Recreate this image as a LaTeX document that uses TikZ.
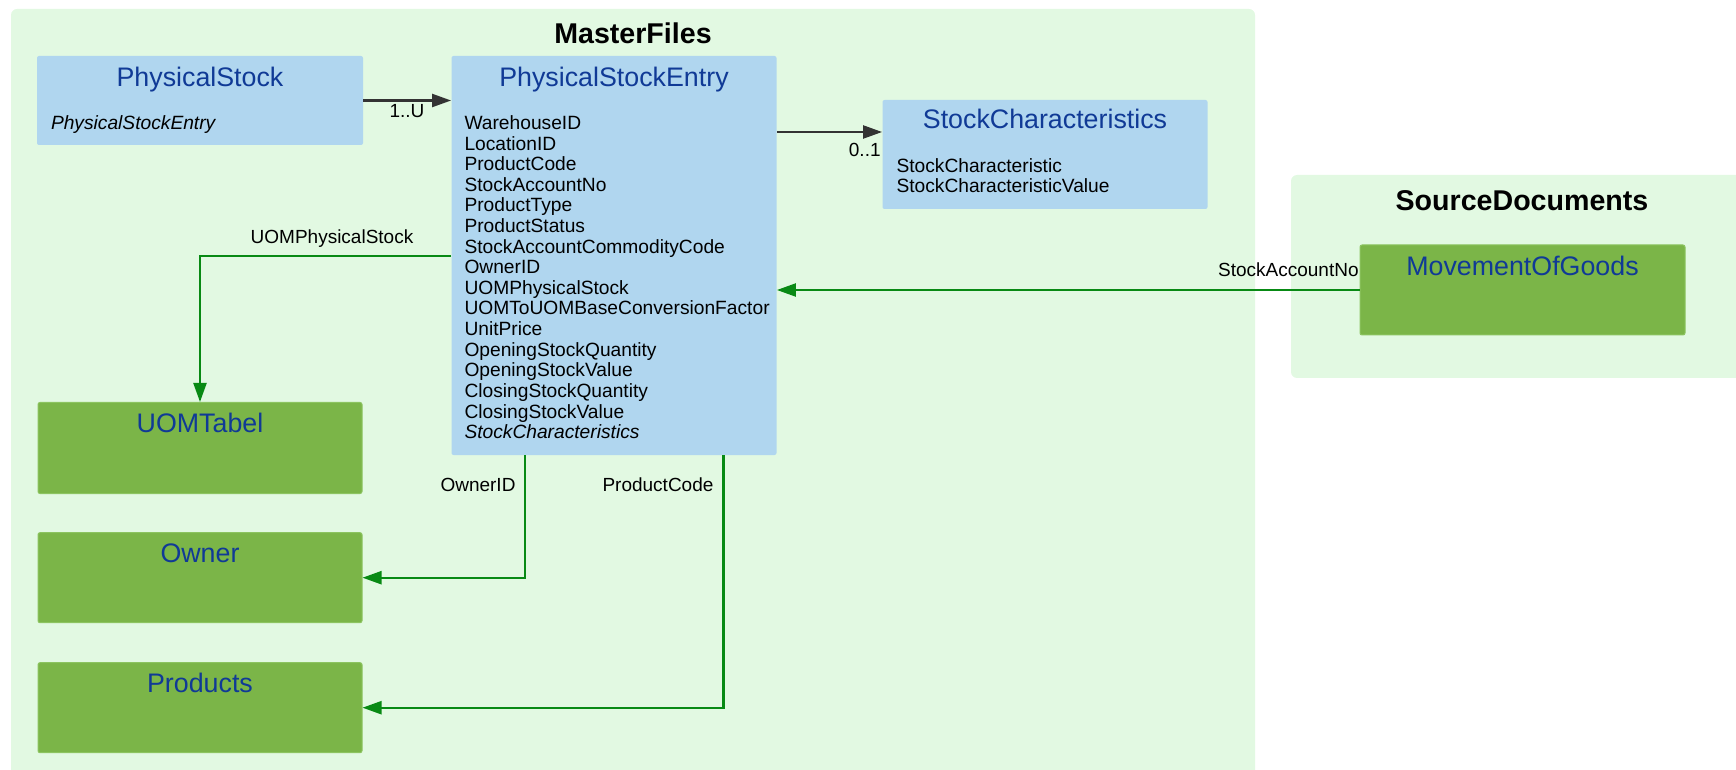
\documentclass[tikz,border=0pt]{standalone}
\usepackage{fontspec}
\setmainfont{Liberation Sans}
\usetikzlibrary{arrows.meta}

\definecolor{panelgreen}{RGB}{226,249,226}
\definecolor{entityblue}{RGB}{176,214,239}
\definecolor{refgreen}{RGB}{123,181,72}
\definecolor{refedge}{RGB}{140,196,96}
\definecolor{titleblue}{RGB}{16,58,150}
\definecolor{linkgreen}{RGB}{8,138,20}
\definecolor{linkgray}{RGB}{51,51,51}

\begin{document}
\begin{tikzpicture}[
  x=0.5pt, y=-0.5pt,
  panel/.style={fill=panelgreen, draw=none, rounded corners=3pt},
  entity/.style={fill=entityblue, draw=none, rounded corners=1pt, inner sep=0pt},
  refbox/.style={fill=refgreen, draw=refedge, line width=0.5pt, rounded corners=1pt, inner sep=0pt},
  heading/.style={font=\fontsize{13.4}{16}\selectfont, text=titleblue, anchor=base, inner sep=0pt},
  field/.style={font=\fontsize{9.6}{11}\selectfont, anchor=base west, inner sep=0pt},
  paneltitle/.style={font=\bfseries\fontsize{14.3}{17}\selectfont, anchor=base, inner sep=0pt},
  linklabel/.style={font=\fontsize{9.5}{11}\selectfont, anchor=base, inner sep=0pt},
  assoc/.style={draw=linkgray, line width=1.1pt, -{Triangle[length=9.5pt,width=6.5pt]}},
  fk/.style={draw=linkgreen, line width=1.1pt, -{Triangle[length=9.5pt,width=6.5pt]}}
]
\clip (0,0) rectangle (1736,770);

% package panels
\path[panel] (11,9) rectangle (1255,800);
\path[panel] (1291,175) rectangle (1760,378);
\node[paneltitle] (mf-title) at (633,44) {MasterFiles};
\node[paneltitle] (sd-title) at (1522,211) {SourceDocuments};

% entities
\node[entity, minimum width=163pt, minimum height=44.5pt] (ps) at (200,100.5) {};
\node[entity, minimum width=162.5pt, minimum height=199.5pt] (pse) at (614,255.5) {};
\node[entity, minimum width=162.5pt, minimum height=54.5pt] (sc) at (1045,154.5) {};
\node[refbox, minimum width=162pt, minimum height=45.5pt] (uom) at (200,448) {};
\node[refbox, minimum width=162pt, minimum height=45pt] (owner) at (200,577.7) {};
\node[refbox, minimum width=162pt, minimum height=45pt] (products) at (200,707.7) {};
\node[refbox, minimum width=162.5pt, minimum height=45pt] (mog) at (1522.5,290) {};

% headings
\node[heading] (ps-h) at ([yshift=-15.5pt]ps.north) {PhysicalStock};
\node[heading] (pse-h) at ([yshift=-15.5pt]pse.north) {PhysicalStockEntry};
\node[heading] (sc-h) at ([yshift=-14.5pt]sc.north) {StockCharacteristics};
\node[heading] (uom-h) at ([yshift=-15pt]uom.north) {UOMTabel};
\node[heading] (owner-h) at ([yshift=-15pt]owner.north) {Owner};
\node[heading] (products-h) at ([yshift=-15pt]products.north) {Products};
\node[heading] (mog-h) at ([yshift=-15.5pt]mog.north) {MovementOfGoods};

% fields
\node[field] (ps-f0) at ([xshift=7pt,yshift=-37pt]ps.north west) {\textit{PhysicalStockEntry}};
\foreach \f [count=\i from 0] in {WarehouseID,LocationID,ProductCode,StockAccountNo,
  ProductType,ProductStatus,StockAccountCommodityCode,OwnerID,UOMPhysicalStock,
  UOMToUOMBaseConversionFactor,UnitPrice,OpeningStockQuantity,OpeningStockValue,
  ClosingStockQuantity,ClosingStockValue,{\textit{StockCharacteristics}}}
  \node[field] (pse-f\i) at ([xshift=6.5pt,yshift={-(37+10.3*\i)*1pt}]pse.north west) {\f};
\node[field] (sc-f0) at ([xshift=7pt,yshift=-36.5pt]sc.north west) {StockCharacteristic};
\node[field] (sc-f1) at ([xshift=7pt,yshift=-46.5pt]sc.north west) {StockCharacteristicValue};

% associations
\draw[assoc] (ps.east) -- (pse.west |- ps.east);
\node[linklabel] (l-1u) at (407,118) {1..U};

\coordinate (scrow) at (0,132);
\draw[assoc] (pse.east |- scrow) -- (sc.west |- scrow);
\node[linklabel, anchor=base east] (l-01) at (881,157) {0..1};

% foreign-key references
\coordinate (uomrow) at (0,256);
\draw[fk] (pse.west |- uomrow) -| (uom.north);
\node[linklabel] (l-uom) at (332,244) {UOMPhysicalStock};

\coordinate (ownerx) at (525,0);
\draw[fk] (pse.south -| ownerx) |- (owner.east);
\node[linklabel] (l-owner) at (478,491) {OwnerID};

\coordinate (productx) at (723.5,0);
\draw[fk] (pse.south -| productx) |- (products.east);
\node[linklabel] (l-product) at (658,491) {ProductCode};

\draw[fk] (mog.west) -- (pse.east |- mog.west);
\node[linklabel, anchor=base east] (l-sano) at (1359,277) {StockAccountNo};
\end{tikzpicture}
\end{document}
